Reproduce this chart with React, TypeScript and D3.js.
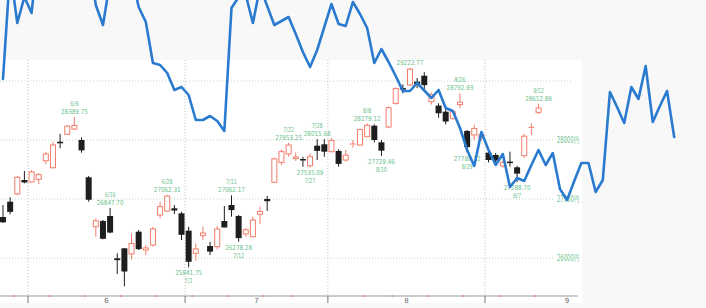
import React from 'react';
import * as d3 from 'd3';

// ---- data ----
const dates = [
  '2022-05-26','2022-05-27','2022-05-30','2022-05-31','2022-06-01','2022-06-02','2022-06-03','2022-06-06','2022-06-07','2022-06-08',
  '2022-06-09','2022-06-10','2022-06-13','2022-06-14','2022-06-15','2022-06-16','2022-06-17','2022-06-20','2022-06-21','2022-06-22',
  '2022-06-23','2022-06-24','2022-06-27','2022-06-28','2022-06-29','2022-06-30','2022-07-01','2022-07-04','2022-07-05','2022-07-06',
  '2022-07-07','2022-07-08','2022-07-11','2022-07-12','2022-07-13','2022-07-14','2022-07-15','2022-07-19','2022-07-20','2022-07-21',
  '2022-07-22','2022-07-25','2022-07-26','2022-07-27','2022-07-28','2022-07-29','2022-08-01','2022-08-02','2022-08-03','2022-08-04',
  '2022-08-05','2022-08-08','2022-08-09','2022-08-10','2022-08-12','2022-08-15','2022-08-16','2022-08-17','2022-08-18','2022-08-19',
  '2022-08-22','2022-08-23','2022-08-24','2022-08-25','2022-08-26','2022-08-29','2022-08-30','2022-08-31','2022-09-01','2022-09-02',
  '2022-09-05','2022-09-06','2022-09-07','2022-09-08','2022-09-09','2022-09-12',
];
const opens = [
  26695,26955,27086,27322,27288,27334,27649,27530,27971,28097,
  28186,28000,27368,26530,26627,26712,25995,26164,26068,26446,
  26136,26220,26729,26797,26842,26757,26463,26080,26379,26203,
  26192,26627,26898,26712,26407,26361,26741,27000,27283,27622,
  27763,27685,27678,27564,27904,27927,27802,27814,27661,27915,
  27915,28056,28243,27961,28220,28620,28880,28932,28990,29090,
  28650,28583,28480,28367,28600,28153,28085,28030,27785,27746,
  27560,27634,27537,27734,28209,28469,
];
const highs = [
  26898,27029,27390,27474,27492,27436,27802,27971,28102,28254,
  28389.75,28045,27390,26673,26644,26847.7,26080,26170,26418,26475,
  26220,26530,26954,27062.31,26898,26785,26530,26249,26530,26276,
  26542,26881,27062.17,26729,26503,26700,26870,27051,27700,27842,
  27953.25,27791,27717,27774,28015.68,28017,28028,27842,27831,28000,
  28198,28279.12,28266,28000,28570,28890,28942,29222.77,29050,29149,
  28800,28622,28537,28500,28792.93,28170,28260,28140,27830,27780,
  27650,27802,27560,28100,28283,28612.89,
];
const lows = [
  26593,26741,27063,27266,27276,27249,27593,27513,27859,28085,
  28170,27785,26954,26361,26317,26418,25729,25520,25978,26135,
  26050,26192,26673,26785,26746,26305,25841.75,25955,26305,26050,
  26147,26520,26700,26278.28,26361,26351,26576,26797,27270,27576,
  27717,27644,27547,27535.09,27661,27717,27791,27547,27632,27870,
  27903,28050,27961,27729.46,28200,28600,28791,28915,28880,28847,
  28600,28378,28266,28340,28537,27788.12,28000,27990,27620,27600,
  27530,27548,27288.7,27700,28085,28435,
];
const closes = [
  26605,26782,27369,27280,27458,27414,27762,27916,27944,28234,
  28247,27824,26987,26630,26326,26431,25963,25771,26246,26150,
  26171,26492,26871,27049,26805,26393,25936,26154,26423,26108,
  26491,26517,26812,26337,26479,26643,26788,26962,27680,27803,
  27915,27712,27655,27716,27815,27802,27993,27595,27742,27932,
  28176,28249,28000,27819,28547,28872,28869,29200,28942,28930,
  28770,28453,28313,28479,28641,27879,28196,28092,27661,27651,
  27620,27627,27430,28065,28215,28542,
];
// overlay line (daily level, extends past the last candle)
const lineLevels = [
  221,330,277,303,287,353,360,370,350,365,355,360,340,295,275,319,340,350,325,293,
  278,237,235,227,210,213,205,180,180,184,179,169,292,303,305,277,313,294,275,279,
  283,266,248,233,250,273,296,276,274,298,286,272,237,251,238,224,209,209,217,209.5,
  202,210,192,189,172,150,134,168,150,135,146,113,122,119,135,150,135,147,111,100,
  119,137,137,108,120,208,193,177,213,201,234,178,194,209,163,
];
const highMarks = ['2022-06-09','2022-06-16','2022-06-28','2022-07-11','2022-07-22','2022-07-28','2022-08-08','2022-08-17','2022-08-26','2022-09-12'];
const lowMarks = ['2022-07-01','2022-07-12','2022-07-27','2022-08-10','2022-08-29','2022-09-07'];
const priceTicks = [26000, 27000, 28000, 29000];
const labeledTicks = [26000, 27000, 28000];

// ---- layout ----
const W = 706, H = 308;
const PANEL = { x0: 0, y0: 60, x1: 582, y1: 303 };
const AXIS_Y = 296;
const GREEN = '#6cbf8e';
const RED = '#f47c6a';
const DARK = '#1e1e1e';
const BLUE = '#2a7bd0';

const parse = d3.timeParse('%Y-%m-%d');
const fmtMD = (d: Date) => `${d.getMonth() + 1}/${d.getDate()}`;
const fmtNum = (v: number) => v.toFixed(2);

export default function App() {
  const days = dates.map((s) => parse(s) as Date);
  const x = d3.scaleLinear().domain([-0.5, 80.5]).range([-0.57, 577.8]);
  const slot = x(1) - x(0);
  const y = d3.scaleLinear().domain([26000, 28000]).range([258, 140]);
  const lineY = d3.scaleLinear().domain([0, 300]).range([300, 0]);
  const bodyW = 6;

  const monthStarts: number[] = [];
  const weekStarts: number[] = [];
  days.forEach((d, i) => {
    if (i === 0) return;
    const p = days[i - 1];
    if (d.getMonth() !== p.getMonth()) monthStarts.push(i);
    else if (+d3.timeMonday.floor(d) !== +d3.timeMonday.floor(p)) weekStarts.push(i);
  });
  const monthEdges = monthStarts.map((i) => x(i - 0.5));
  const monthLabelX = monthEdges.map((e, k) =>
    k < monthEdges.length - 1 ? (e + monthEdges[k + 1]) / 2 : e + (23 * slot) / 2
  );

  const linePath = d3
    .line<number>()
    .x((_, i) => x(i))
    .y((v) => lineY(v))(lineLevels) as string;

  const idxOf = (s: string) => dates.indexOf(s);
  const FS = 6.8;

  return (
    <svg width={W} height={H} style={{ position: 'absolute', left: 0, top: 0, display: 'block' }}
      fontFamily="'DejaVu Sans', sans-serif">
      <defs>
        <clipPath id="panelClip">
          <rect x={PANEL.x0} y={PANEL.y0 - 1} width={PANEL.x1 - PANEL.x0} height={PANEL.y1 - PANEL.y0 + 1} />
        </clipPath>
      </defs>
      <rect x={0} y={0} width={W} height={H} fill="#f8f8f8" />
      <rect x={PANEL.x0} y={PANEL.y0} width={PANEL.x1 - PANEL.x0} height={PANEL.y1 - PANEL.y0} fill="#ffffff" />

      {priceTicks.map((t) => (
        <line key={'g' + t} x1={0} x2={labeledTicks.includes(t) ? 554 : 572} y1={y(t)} y2={y(t)}
          stroke="#b9dcc9" strokeWidth={1} strokeDasharray="1,2" />
      ))}
      {labeledTicks.map((t) => (
        <text key={'yl' + t} x={579} y={y(t) + 3} textAnchor="end" fontSize={8} fill={GREEN}
          textLength={22} lengthAdjust="spacingAndGlyphs">{`${t}円`}</text>
      ))}
      {monthEdges.map((e, k) => (
        <line key={'v' + k} x1={e} x2={e} y1={PANEL.y0} y2={AXIS_Y} stroke="#bdbdbd" strokeDasharray="1,2" />
      ))}

      <g clipPath="url(#panelClip)">
        {dates.map((_, i) => {
          const o = opens[i], c = closes[i], h = highs[i], l = lows[i];
          const cx = x(i);
          const up = c >= o;
          const top = y(Math.max(o, c));
          const bot = y(Math.min(o, c));
          const bh = Math.max(1, bot - top);
          if (up) {
            return (
              <g key={i} stroke={RED} strokeWidth={1} fill="#fff">
                <line x1={cx} x2={cx} y1={y(h)} y2={top} />
                <line x1={cx} x2={cx} y1={top + bh} y2={y(l)} />
                {bh > 1.5 ? (
                  <rect x={cx - bodyW / 2 + 0.5} y={top} width={bodyW - 1} height={bh} />
                ) : (
                  <line x1={cx - bodyW / 2} x2={cx + bodyW / 2} y1={top} y2={top} />
                )}
              </g>
            );
          }
          return (
            <g key={i}>
              <line x1={cx} x2={cx} y1={y(h)} y2={y(l)} stroke={DARK} strokeWidth={1} />
              <rect x={cx - bodyW / 2} y={top} width={bodyW} height={Math.max(1.5, bh)} fill={DARK} />
            </g>
          );
        })}

        {highMarks.map((s) => {
          const i = idxOf(s);
          const cx = x(i);
          const yt = y(highs[i]);
          const ds = fmtMD(days[i]);
          const vs = fmtNum(highs[i]);
          return (
            <g key={'h' + s} fill={GREEN} fontSize={FS} textAnchor="middle">
              <text x={cx} y={yt - 11} textLength={ds.length * 2.7} lengthAdjust="spacingAndGlyphs">{ds}</text>
              <text x={cx} y={yt - 3} textLength={vs.length * 3.35} lengthAdjust="spacingAndGlyphs">{vs}</text>
            </g>
          );
        })}
        {lowMarks.map((s) => {
          const i = idxOf(s);
          const cx = x(i);
          const yb = y(lows[i]);
          const ds = fmtMD(days[i]);
          const vs = fmtNum(lows[i]);
          return (
            <g key={'l' + s} fill={GREEN} fontSize={FS} textAnchor="middle">
              <text x={cx} y={yb + 8} textLength={vs.length * 3.35} lengthAdjust="spacingAndGlyphs">{vs}</text>
              <text x={cx} y={yb + 16} textLength={ds.length * 2.7} lengthAdjust="spacingAndGlyphs">{ds}</text>
            </g>
          );
        })}
      </g>

      <line x1={0} x2={x(80.5)} y1={AXIS_Y} y2={AXIS_Y} stroke="#9a9a9a" strokeWidth={1.2} />
      {weekStarts.map((i) => (
        <line key={'w' + i} x1={x(i - 0.5)} x2={x(i - 0.5)} y1={AXIS_Y - 0.8} y2={AXIS_Y + 0.8} stroke={RED} strokeWidth={1.5} />
      ))}
      {monthEdges.map((e, k) => (
        <line key={'mt' + k} x1={e} x2={e} y1={AXIS_Y} y2={AXIS_Y + 7} stroke="#777" strokeWidth={1} />
      ))}
      {monthLabelX.map((mx, k) => (
        <text key={'ml' + k} x={mx} y={302.5} textAnchor="middle" fontSize={7} fill="#666">
          {String(days[monthStarts[k]].getMonth() + 1)}
        </text>
      ))}

      <path d={linePath} fill="none" stroke={BLUE} strokeWidth={2.6} strokeLinejoin="round" strokeLinecap="round" />
    </svg>
  );
}
